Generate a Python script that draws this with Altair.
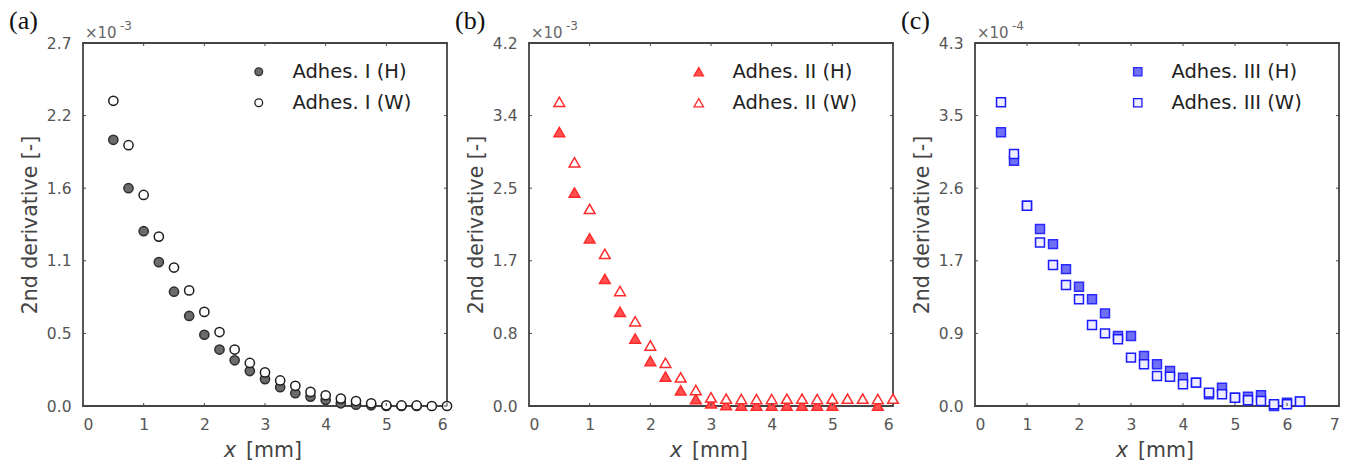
import altair as alt
import pandas as pd

# ---------------- data (values in units of the axis multiplier) ----------------
# Panel (a): x10^-3
a_x_H = [0.5, 0.75, 1.0, 1.25, 1.5, 1.75, 2.0, 2.25, 2.5, 2.75, 3.0, 3.25, 3.5, 3.75,
         4.0, 4.25, 4.5, 4.75, 5.0, 5.25, 5.5]
a_H = [1.98, 1.62, 1.30, 1.07, 0.85, 0.67, 0.53, 0.42, 0.34, 0.26, 0.20, 0.14, 0.095, 0.07,
       0.045, 0.02, 0.01, 0.005, 0.0, 0.0, 0.0]
a_x_W = [0.5, 0.75, 1.0, 1.25, 1.5, 1.75, 2.0, 2.25, 2.5, 2.75, 3.0, 3.25, 3.5, 3.75,
         4.0, 4.25, 4.5, 4.75, 5.0, 5.25, 5.5, 5.75, 6.0]
a_W = [2.27, 1.94, 1.57, 1.26, 1.03, 0.86, 0.70, 0.55, 0.42, 0.32, 0.25, 0.19, 0.15, 0.105,
       0.08, 0.055, 0.037, 0.02, 0.005, 0.004, 0.004, 0.0, 0.0]

# Panel (b): x10^-3
b_x_H = [0.5, 0.75, 1.0, 1.25, 1.5, 1.75, 2.0, 2.25, 2.5, 2.75, 3.0, 3.25, 3.5, 3.75,
         4.0, 4.25, 4.5, 4.75, 5.0, 5.75]
b_H = [3.17, 2.47, 1.94, 1.47, 1.09, 0.78, 0.52, 0.34, 0.18, 0.08, 0.03, 0.01, 0.005, 0.005,
       0.005, 0.005, 0.005, 0.005, 0.005, 0.005]
b_x_W = [0.5, 0.75, 1.0, 1.25, 1.5, 1.75, 2.0, 2.25, 2.5, 2.75, 3.0, 3.25, 3.5, 3.75,
         4.0, 4.25, 4.5, 4.75, 5.0, 5.25, 5.5, 5.75, 6.0]
b_W = [3.52, 2.82, 2.28, 1.76, 1.33, 0.98, 0.70, 0.50, 0.33, 0.185, 0.10, 0.085, 0.08, 0.08,
       0.08, 0.085, 0.085, 0.08, 0.085, 0.085, 0.085, 0.08, 0.085]

# Panel (c): x10^-4
c_x = [0.5, 0.75, 1.0, 1.25, 1.5, 1.75, 2.0, 2.25, 2.5, 2.75, 3.0, 3.25, 3.5, 3.75,
       4.0, 4.25, 4.5, 4.75, 5.0, 5.25, 5.5, 5.75, 6.0, 6.25]
c_H = [3.28, 2.94, 2.40, 2.12, 1.94, 1.64, 1.43, 1.28, 1.11, 0.84, 0.84, 0.60, 0.50, 0.42,
       0.34, 0.28, 0.14, 0.22, 0.10, 0.11, 0.13, 0.0, 0.04, 0.05]
c_W = [3.64, 3.02, 2.40, 1.96, 1.69, 1.45, 1.28, 0.97, 0.87, 0.80, 0.58, 0.50, 0.36, 0.35,
       0.26, 0.28, 0.16, 0.14, 0.10, 0.07, 0.06, 0.02, 0.02, 0.055]

# axis ticks and labels
a_yticks = [0.0, 0.54, 1.08, 1.62, 2.16, 2.7]
a_ylabels = ["0.0", "0.5", "1.1", "1.6", "2.2", "2.7"]
b_yticks = [0.0, 0.84, 1.68, 2.52, 3.36, 4.2]
b_ylabels = ["0.0", "0.8", "1.7", "2.5", "3.4", "4.2"]
c_yticks = [0.0, 0.87, 1.74, 2.61, 3.48, 4.35]
c_ylabels = ["0.0", "0.9", "1.7", "2.6", "3.5", "4.3"]
ab_xticks = [0, 1, 2, 3, 4, 5, 6]
c_xticks = [0, 1, 2, 3, 4, 5, 6, 7]

W, H = 364, 363
FONT = "DejaVu Sans"
FRAME = "#454545"


def panel(letter, exponent, xH, yH, xW, yW, names, shape, msize, fills, strokes,
          xticks, yticks, ylabels, legend_x, leg_size):
    df = pd.DataFrame({
        "x": list(xH) + list(xW),
        "y": list(yH) + list(yW),
        "series": [names[0]] * len(xH) + [names[1]] * len(xW),
    })
    xs = alt.Scale(domain=[xticks[0], xticks[-1]], nice=False, zero=False)
    ys = alt.Scale(domain=[yticks[0], yticks[-1]], nice=False, zero=False)
    label_expr = "[" + ",".join("'%s'" % s for s in ylabels) + "][indexof([" + \
        ",".join(repr(v) for v in yticks) + "], datum.value)]"
    x_axis = alt.Axis(values=xticks, format="d", ticks=False, domain=False, grid=False,
                      labelFont=FONT, labelFontSize=15.5, labelColor="#555555",
                      labelPadding=11, title=None)
    y_axis = alt.Axis(values=yticks, labelExpr=label_expr, ticks=False, domain=False,
                      grid=False, labelFont=FONT, labelFontSize=15.5,
                      labelColor="#555555", labelPadding=12,
                      title="2nd derivative [-]", titleFont=FONT, titleFontSize=20.5,
                      titleFontWeight="normal", titleColor="#444444", titlePadding=6)
    leg = alt.Legend(orient="none", legendX=legend_x, legendY=19, title=None,
                     labelFont=FONT, labelFontSize=19.5, labelColor="#222222",
                     symbolSize=leg_size, symbolStrokeWidth=1.3, rowPadding=10,
                     labelOffset=24, padding=0, symbolOpacity=1)
    dom = list(names)
    pts = alt.Chart(df).mark_point(opacity=1, strokeWidth=1.5, size=msize, clip=False).encode(
        x=alt.X("x:Q", scale=xs, axis=x_axis),
        y=alt.Y("y:Q", scale=ys, axis=y_axis),
        shape=alt.Shape("series:N", scale=alt.Scale(domain=dom, range=[shape, shape]), legend=leg),
        fill=alt.Fill("series:N", scale=alt.Scale(domain=dom, range=fills), legend=leg),
        stroke=alt.Stroke("series:N", scale=alt.Scale(domain=dom, range=strokes), legend=leg),
        order=alt.Order("o:Q"),
    ).transform_calculate(o="datum.series == '%s' ? 0 : 1" % names[0])

    xt = pd.DataFrame({"v": xticks})
    yt = pd.DataFrame({"v": yticks})
    tick_bottom = alt.Chart(xt).mark_rule(color=FRAME, strokeWidth=1).encode(
        x=alt.X("v:Q", scale=xs, axis=x_axis), y=alt.value(H), y2=alt.value(H - 3))
    tick_top = alt.Chart(xt).mark_rule(color=FRAME, strokeWidth=1).encode(
        x=alt.X("v:Q", scale=xs, axis=x_axis), y=alt.value(0), y2=alt.value(3))
    tick_left = alt.Chart(yt).mark_rule(color=FRAME, strokeWidth=1).encode(
        y=alt.Y("v:Q", scale=ys, axis=y_axis), x=alt.value(0), x2=alt.value(3))
    tick_right = alt.Chart(yt).mark_rule(color=FRAME, strokeWidth=1).encode(
        y=alt.Y("v:Q", scale=ys, axis=y_axis), x=alt.value(W), x2=alt.value(W - 3))

    one = pd.DataFrame({"d": [0]})
    t_letter = alt.Chart(one).mark_text(align="left", baseline="alphabetic",
                                        font="Liberation Serif", fontSize=26,
                                        color="#111111").encode(
        x=alt.value(-74), y=alt.value(-14), text=alt.value(letter))
    t_x10 = alt.Chart(one).mark_text(align="left", baseline="alphabetic", font=FONT,
                                     fontSize=15, color="#666666").encode(
        x=alt.value(2), y=alt.value(-5), text=alt.value("\u00d710"))
    t_exp = alt.Chart(one).mark_text(align="left", baseline="alphabetic", font=FONT,
                                     fontSize=12, color="#666666").encode(
        x=alt.value(37), y=alt.value(-13), text=alt.value(exponent))
    t_xi = alt.Chart(one).mark_text(align="left", baseline="alphabetic", font=FONT,
                                    fontSize=20.5, fontStyle="italic", color="#444444").encode(
        x=alt.value(W / 2 - 41), y=alt.value(H + 51), text=alt.value("x"))
    t_xu = alt.Chart(one).mark_text(align="left", baseline="alphabetic", font=FONT,
                                    fontSize=20.5, color="#444444").encode(
        x=alt.value(W / 2 - 19), y=alt.value(H + 51), text=alt.value("[mm]"))

    return alt.layer(pts, tick_bottom, tick_top, tick_left, tick_right,
                     t_letter, t_x10, t_exp, t_xi, t_xu).properties(width=W, height=H)


pa = panel("(a)", "-3", a_x_H, a_H, a_x_W, a_W,
           ["Adhes. I (H)", "Adhes. I (W)"], "circle", 85,
           ["#6b6b6b", "#ffffff"], ["#2e2e2e", "#1e1e1e"],
           ab_xticks, a_yticks, a_ylabels, 166, 60)
pb = panel("(b)", "-3", b_x_H, b_H, b_x_W, b_W,
           ["Adhes. II (H)", "Adhes. II (W)"], "triangle-up", 115,
           ["#ff5050", "#ffffff"], ["#ff2a2a", "#ff2a2a"],
           ab_xticks, b_yticks, b_ylabels, 160, 90)
pc = panel("(c)", "-4", c_x, c_H, c_x, c_W,
           ["Adhes. III (H)", "Adhes. III (W)"], "square", 80,
           ["#7070f5", "#eeeeff"], ["#2a2aff", "#1a1aff"],
           c_xticks, c_yticks, c_ylabels, 153, 70)

chart = alt.hconcat(pa, pb, pc, spacing=82, bounds="flush").resolve_scale(
    x="independent", y="independent", shape="independent", fill="independent",
    stroke="independent"
).properties(
    autosize=alt.AutoSizeParams(type="none"),
    padding={"left": 83, "top": 43, "right": 1346 - 83, "bottom": 463 - 43},
).configure(background="white").configure_view(stroke=FRAME, strokeWidth=1.8)

chart.save("out.html", embed_options={"renderer": "svg", "actions": False})
